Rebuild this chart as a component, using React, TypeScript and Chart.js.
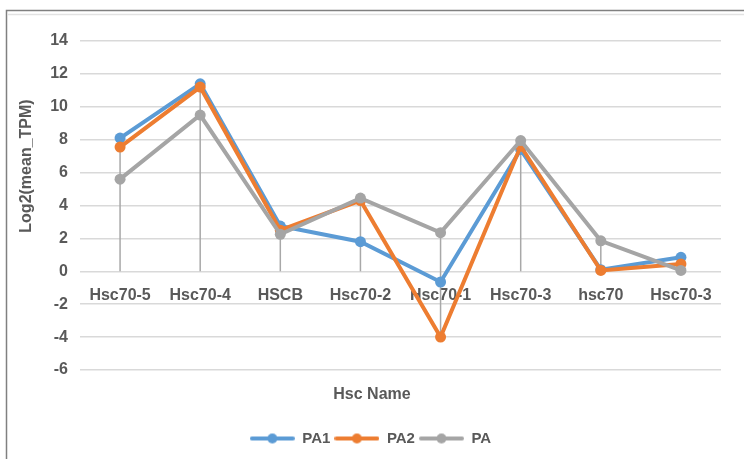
import React, { useEffect, useRef } from "react";
import { Chart, registerables } from "chart.js";

Chart.register(...registerables);

const categories = ["Hsc70-5", "Hsc70-4", "HSCB", "Hsc70-2", "Hsc70-1", "Hsc70-3", "hsc70", "Hsc70-3"];
const pa1Values = [8.1, 11.4, 2.75, 1.8, -0.65, 7.4, 0.1, 0.85];
const pa2Values = [7.55, 11.2, 2.5, 4.3, -4.0, 7.6, 0.05, 0.45];
const paValues = [5.6, 9.5, 2.25, 4.45, 2.35, 7.95, 1.85, 0.05];
const seriesNames = ["PA1", "PA2", "PA"];
const seriesColors = ["#5B9BD5", "#ED7D31", "#A5A5A5"];
const yMin = -6;
const yMax = 14;
const yStep = 2;
const xTitle = "Hsc Name";
const yTitle = "Log2(mean_TPM)";

const FONT = "'Liberation Sans', Arial, sans-serif";
const TEXT = "#595959";

function makeLegendIcon(color: string) {
  const c = document.createElement("canvas");
  c.width = 45;
  c.height = 12;
  const ctx = c.getContext("2d")!;
  ctx.strokeStyle = color;
  ctx.lineWidth = 4;
  ctx.lineCap = "round";
  ctx.beginPath();
  ctx.moveTo(2, 6);
  ctx.lineTo(43, 6);
  ctx.stroke();
  ctx.fillStyle = color;
  ctx.beginPath();
  ctx.arc(22.5, 6, 5, 0, Math.PI * 2);
  ctx.fill();
  return c;
}

const framePlugin = {
  id: "frame",
  beforeDraw(chart: any) {
    const ctx = chart.ctx;
    ctx.save();
    ctx.fillStyle = "#ffffff";
    ctx.fillRect(0, 0, chart.width, chart.height);
    ctx.strokeStyle = "#808080";
    ctx.lineWidth = 1.5;
    ctx.beginPath();
    ctx.moveTo(6.5, chart.height);
    ctx.lineTo(6.5, 10.5);
    ctx.lineTo(chart.width, 10.5);
    ctx.stroke();
    ctx.strokeStyle = "#e2e2e2";
    ctx.lineWidth = 1.5;
    ctx.beginPath();
    ctx.moveTo(7.5, 14.5);
    ctx.lineTo(chart.width, 14.5);
    ctx.stroke();
    ctx.restore();
  },
};

const dropLinePlugin = {
  id: "dropLines",
  beforeDatasetsDraw(chart: any) {
    const ctx = chart.ctx;
    const xs = chart.scales.x;
    const ys = chart.scales.y;
    ctx.save();
    ctx.strokeStyle = "#A8A8A8";
    ctx.lineWidth = 1.5;
    categories.forEach((_, i) => {
      const vals = chart.data.datasets.map((d: any) => d.data[i] as number);
      const hi = Math.max(0, ...vals);
      const lo = Math.min(0, ...vals);
      const x = xs.getPixelForValue(i);
      ctx.beginPath();
      ctx.moveTo(x, ys.getPixelForValue(hi));
      ctx.lineTo(x, ys.getPixelForValue(lo));
      ctx.stroke();
    });
    ctx.restore();
  },
};

const titlePlugin = {
  id: "axisTitles",
  afterDraw(chart: any) {
    const ctx = chart.ctx;
    ctx.save();
    ctx.fillStyle = TEXT;
    ctx.font = `bold 16px ${FONT}`;
    ctx.textAlign = "center";
    ctx.textBaseline = "middle";
    ctx.fillText(xTitle, 372, 395);
    ctx.translate(27, 166);
    ctx.rotate(-Math.PI / 2);
    ctx.fillText(yTitle, 0, 0);
    ctx.restore();
  },
};

export default function App() {
  const ref = useRef<HTMLCanvasElement | null>(null);
  useEffect(() => {
    if (!ref.current) return;
    const icons = seriesColors.map(makeLegendIcon);
    const allValues = [pa1Values, pa2Values, paValues];
    const chart = new Chart(ref.current, {
      type: "line",
      data: {
        labels: categories,
        datasets: allValues.map((vals, i) => ({
          label: seriesNames[i],
          data: vals,
          borderColor: seriesColors[i],
          backgroundColor: seriesColors[i],
          pointBackgroundColor: seriesColors[i],
          pointBorderColor: seriesColors[i],
          borderWidth: 4,
          pointRadius: 5.5,
          pointBorderWidth: 0,
          tension: 0,
          fill: false,
          order: 3 - i,
        })),
      },
      options: {
        responsive: false,
        animation: false,
        events: [],
        layout: { padding: { left: 20, top: 41, right: 23, bottom: 3 } },
        scales: {
          x: {
            type: "category",
            position: { y: 0 } as any,
            offset: true,
            grid: { display: false, drawTicks: false },
            border: { display: false },
            ticks: {
              color: TEXT,
              font: { family: FONT, size: 16, weight: "bold" },
              padding: 15,
              maxRotation: 0,
              autoSkip: false,
            },
          },
          y: {
            min: yMin,
            max: yMax,
            afterFit(scale: any) {
              scale.width = 60;
            },
            grid: { color: "#D9D9D9", lineWidth: 1.5, drawTicks: false },
            border: { display: false },
            ticks: {
              stepSize: yStep,
              color: TEXT,
              font: { family: FONT, size: 16, weight: "bold" },
              padding: 12,
            },
          },
        },
        plugins: {
          tooltip: { enabled: false },
          legend: {
            position: "bottom",
            title: { display: true, text: "", font: { size: 1, lineHeight: 1 }, padding: { top: 56, bottom: 0 } },
            labels: {
              usePointStyle: true,
              pointStyleWidth: 45,
              padding: 4,
              color: TEXT,
              font: { family: FONT, size: 15, weight: "bold" },
              sort: (a: any, b: any) => a.datasetIndex - b.datasetIndex,
              generateLabels(ch: any) {
                const items = (Chart.defaults.plugins.legend.labels as any).generateLabels(ch);
                return items.map((it: any, i: number) => ({ ...it, pointStyle: icons[it.datasetIndex ?? i] }));
              },
            },
          },
        },
      },
      plugins: [framePlugin, dropLinePlugin, titlePlugin],
    });
    return () => chart.destroy();
  }, []);
  return (
    <div style={{ position: "fixed", left: 0, top: 0, width: 744, height: 459, background: "#fff" }}>
      <canvas ref={ref} width={744} height={459} style={{ width: 744, height: 459, display: "block" }} />
    </div>
  );
}
